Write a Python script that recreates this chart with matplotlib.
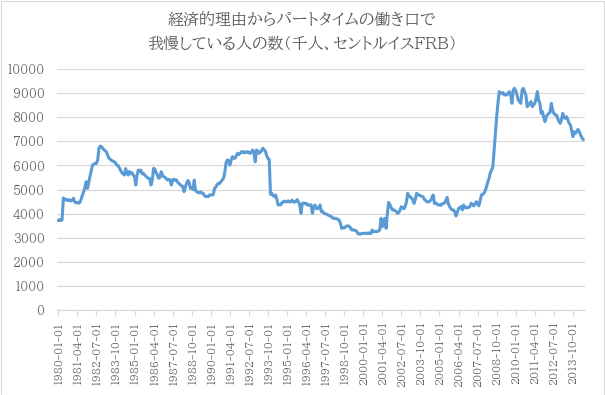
import matplotlib
matplotlib.use("Agg")
import matplotlib.pyplot as plt
from matplotlib.patches import Rectangle

# ---- data (thousands of persons, monthly from 1980-01) ----
title_lines = ["経済的理由からパートタイムの働き口で",
               "我慢している人の数（千人、セントルイスFRB）"]

v1980 = [3720, 3750, 3710, 3740, 4650, 4600, 4560, 4580, 4540, 4570, 4520, 4560]
v1981 = [4640, 4480, 4450, 4470, 4430, 4460, 4600, 4770, 4900, 5100, 5325, 5050]
v1982 = [5300, 5530, 5800, 6017, 6050, 6086, 6080, 6224, 6700, 6805, 6780, 6700]
v1983 = [6650, 6600, 6550, 6400, 6293, 6250, 6200, 6180, 6150, 6100, 6017, 6000]
v1984 = [5900, 5800, 5700, 5650, 5600, 5868, 5700, 5600, 5750, 5650, 5700, 5600]
v1985 = [5530, 5186, 5600, 5809, 5750, 5800, 5650, 5670, 5600, 5550, 5500, 5460]
v1986 = [5450, 5186, 5400, 5878, 5850, 5700, 5600, 5463, 5500, 5740, 5600, 5530]
v1987 = [5500, 5450, 5390, 5420, 5400, 5186, 5400, 5420, 5380, 5400, 5300, 5250]
v1988 = [5200, 5150, 5130, 4910, 5100, 5250, 5375, 5300, 5048, 5080, 5000, 5390]
v1989 = [4950, 4910, 4880, 4860, 4900, 4850, 4840, 4750, 4703, 4720, 4700, 4771]
v1990 = [4780, 4771, 4790, 5048, 5100, 5200, 5255, 5250, 5323, 5400, 5463, 5700]
v1991 = [6100, 6224, 6200, 6017, 6200, 6363, 6300, 6293, 6400, 6500, 6450, 6500]
v1992 = [6550, 6580, 6520, 6560, 6540, 6570, 6530, 6500, 6560, 6640, 6500, 6150]
v1993 = [6640, 6600, 6500, 6550, 6620, 6710, 6640, 6600, 6400, 6293, 6250, 4800]
v1994 = [4840, 4750, 4700, 4772, 4600, 4357, 4380, 4360, 4450, 4494, 4520, 4480]
v1995 = [4500, 4530, 4480, 4500, 4560, 4490, 4470, 4510, 4580, 4490, 4357, 4010]
v1996 = [4425, 4440, 4410, 4430, 4357, 4370, 4340, 4360, 4010, 4250, 4357, 4220]
v1997 = [4200, 4250, 4357, 4080, 4100, 4010, 4000, 3980, 3950, 3920, 3900, 3872]
v1998 = [3810, 3800, 3803, 3790, 3760, 3734, 3600, 3389, 3420, 3400, 3450, 3490]
v1999 = [3490, 3470, 3400, 3320, 3330, 3310, 3300, 3250, 3153, 3160, 3150, 3170]
v2000 = [3180, 3190, 3170, 3181, 3200, 3170, 3181, 3320, 3240, 3250, 3260, 3250]
v2001 = [3280, 3320, 3803, 3458, 3650, 3803, 3389, 4000, 4466, 4357, 4250, 4150]
v2002 = [4150, 4120, 4080, 4010, 4050, 4150, 4288, 4250, 4200, 4288, 4500, 4841]
v2003 = [4700, 4703, 4650, 4564, 4426, 4600, 4841, 4780, 4770, 4740, 4720, 4700]
v2004 = [4600, 4550, 4495, 4480, 4500, 4550, 4650, 4772, 4426, 4450, 4400, 4357]
v2005 = [4360, 4340, 4400, 4426, 4430, 4550, 4675, 4400, 4288, 4200, 4150, 4150]
v2006 = [4080, 3900, 4050, 4219, 4250, 4288, 4150, 4357, 4250, 4230, 4260, 4250]
v2007 = [4300, 4426, 4380, 4320, 4400, 4495, 4400, 4320, 4550, 4772, 4800, 4841]
v2008 = [4950, 5117, 5300, 5463, 5700, 5808, 5947, 6640, 7330, 8022, 8575, 9060]
v2009 = [9000, 8990, 9020, 8920, 8950, 8920, 9000, 9060, 8920, 8575, 9128, 9200]
v2010 = [9100, 8920, 8714, 8650, 8575, 9128, 9200, 9050, 8920, 8437, 8500, 8575]
v2011 = [8645, 8437, 8500, 8575, 8800, 9060, 8700, 8575, 8160, 8230, 8000, 7815]
v2012 = [8022, 8100, 8160, 8200, 8575, 8300, 8160, 8100, 8090, 7950, 7815, 7746]
v2013 = [7900, 8160, 8000, 7953, 8022, 7900, 7746, 7680, 7450, 7192, 7400, 7330]
v2014 = [7400, 7496, 7400, 7261, 7150, 7080]

tick_labels = ["1980-01-01", "1981-04-01", "1982-07-01", "1983-10-01", "1985-01-01",
               "1986-04-01", "1987-07-01", "1988-10-01", "1990-01-01", "1991-04-01",
               "1992-07-01", "1993-10-01", "1995-01-01", "1996-04-01", "1997-07-01",
               "1998-10-01", "2000-01-01", "2001-04-01", "2002-07-01", "2003-10-01",
               "2005-01-01", "2006-04-01", "2007-07-01", "2008-10-01", "2010-01-01",
               "2011-04-01", "2012-07-01", "2013-10-01"]
y_ticks = [0, 1000, 2000, 3000, 4000, 5000, 6000, 7000, 8000, 9000, 10000]

values = (v1980 + v1981 + v1982 + v1983 + v1984 + v1985 + v1986 + v1987 + v1988 +
          v1989 + v1990 + v1991 + v1992 + v1993 + v1994 + v1995 + v1996 + v1997 +
          v1998 + v1999 + v2000 + v2001 + v2002 + v2003 + v2004 + v2005 + v2006 +
          v2007 + v2008 + v2009 + v2010 + v2011 + v2012 + v2013 + v2014)
x = list(range(len(values)))
tick_pos = [i * 15 for i in range(len(tick_labels))]

TXT = "#595959"
GRID = "#d9d9d9"
LINE = "#5b9bd5"
FAM = ["BIZ UDPMincho", "Noto Serif CJK JP", "Liberation Serif", "DejaVu Serif"]

fig = plt.figure(figsize=(6.05, 3.95), dpi=100)
fig.patch.set_facecolor("white")
fig.patches.append(Rectangle((0.5 / 605, 0.5 / 395), 603.5 / 605, 393.5 / 395,
                             transform=fig.transFigure, fill=False,
                             edgecolor=GRID, linewidth=0.8))

ax = fig.add_axes([57 / 605, (395 - 310) / 395, (585 - 57) / 605, (310 - 69) / 395])
ax.plot(x, values, color=LINE, linewidth=2.2, solid_joinstyle="round")

ax.set_ylim(0, 10000)
ax.set_xlim(-1.0, 414.5)
ax.set_yticks(y_ticks)
ax.set_yticklabels([str(v) for v in y_ticks], family=FAM, fontsize=8.5, color=TXT)
ax.set_xticks(tick_pos)
ax.set_xticklabels(tick_labels, rotation=90, family=FAM, fontsize=7.6, color=TXT)
ax.tick_params(axis="y", length=0, pad=9)
ax.tick_params(axis="x", length=4, color=GRID, direction="out", pad=4)
ax.grid(axis="y", color=GRID, linewidth=0.9)
ax.set_axisbelow(True)
for side in ["top", "right", "left"]:
    ax.spines[side].set_visible(False)
ax.spines["bottom"].set_color(GRID)
ax.spines["bottom"].set_linewidth(0.9)

fig.text(302 / 605, 1 - 20 / 395, title_lines[0], ha="center", va="center",
         family=FAM, fontsize=11.5, color=TXT)
fig.text(302 / 605, 1 - 43 / 395, title_lines[1], ha="center", va="center",
         family=FAM, fontsize=11.5, color=TXT)

fig.savefig("out.png", dpi=100, facecolor="white")
